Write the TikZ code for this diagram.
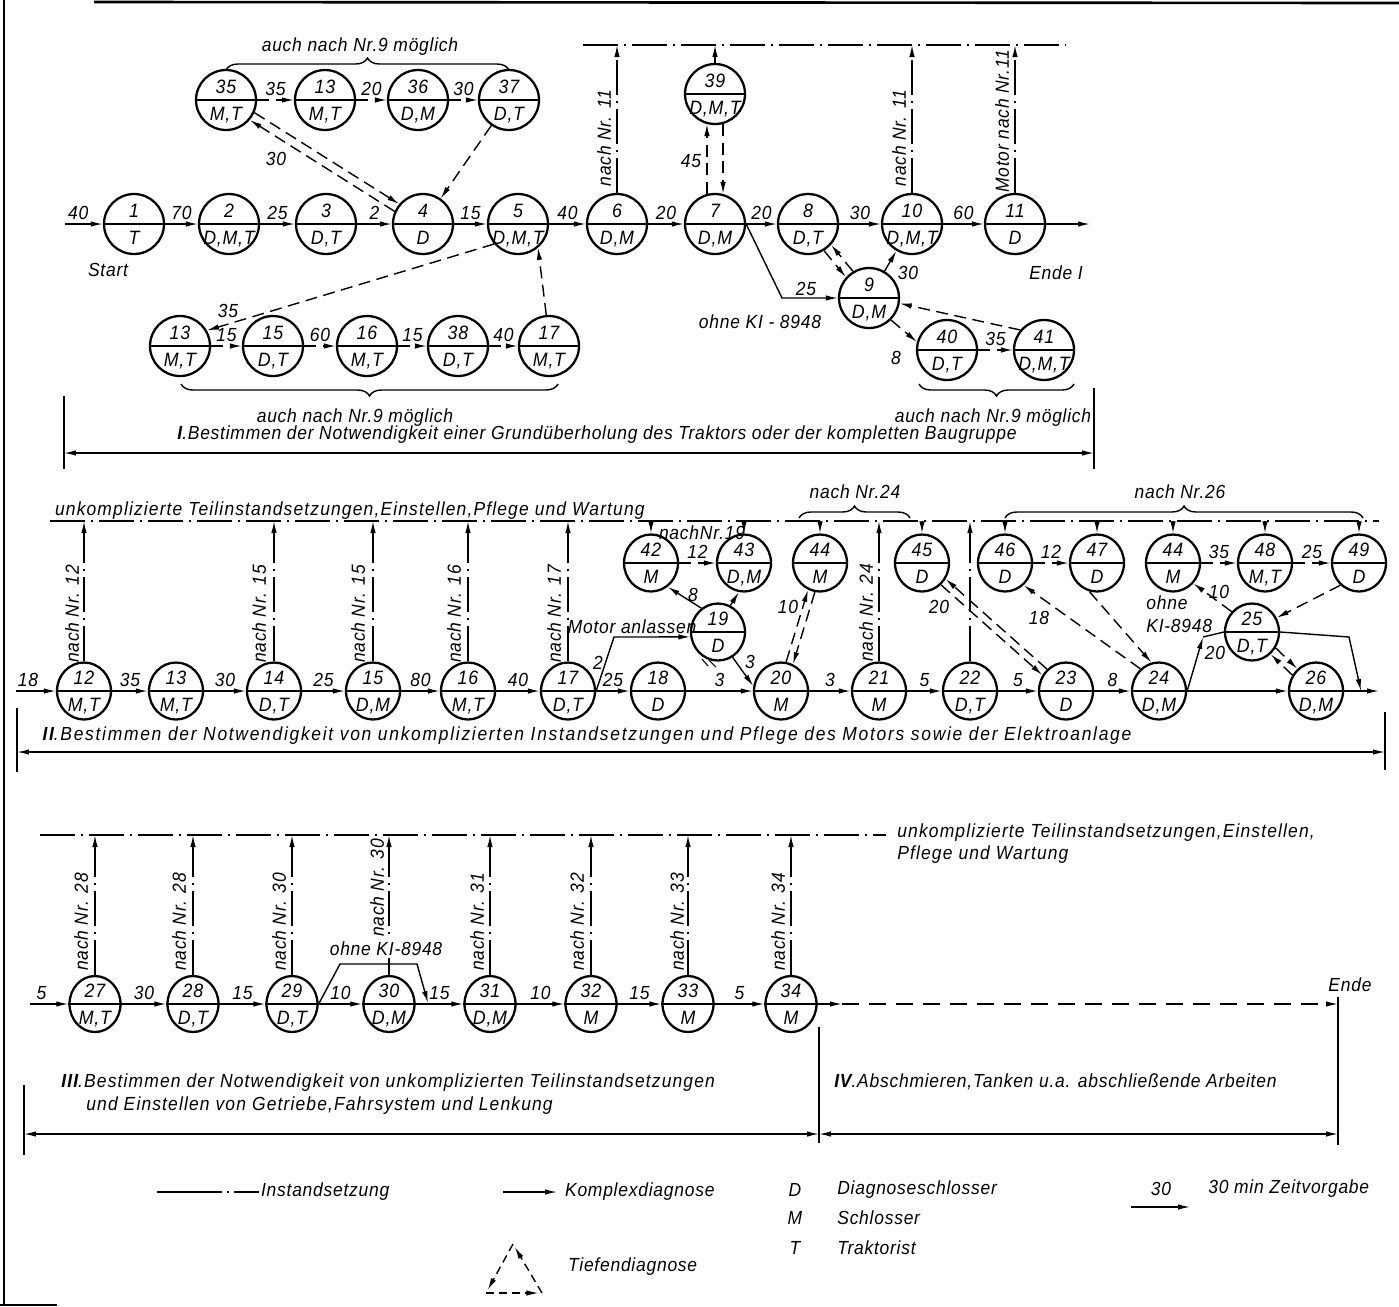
\documentclass[tikz,border=0pt]{standalone}
\usepackage{fontspec}
\setmainfont{Liberation Sans}[FakeStretch=0.92, LetterSpace=4]
\usetikzlibrary{arrows.meta,shapes.geometric,decorations.pathreplacing}

% task circle: style, name, position, number, staff
\newcommand{\tasknode}[5]{%
  \node[#1] (#2) at (#3) {};
  \draw[line width=1.3pt] (#2.west) -- (#2.east);
  \node[tasktxt, anchor=south] at ([yshift=2.5pt]#2.center) {#4};
  \node[tasktxt, anchor=north] at ([yshift=-3pt]#2.center) {#5};%
}

\begin{document}
\begin{tikzpicture}[x=0.02cm, y=-0.02cm,
  font=\itshape\fontsize{10.8}{13}\selectfont,
  >={Latex[length=2.4mm,width=1.1mm]},
  secI/.style={draw, ellipse, line width=1.3pt, minimum width=1.2cm, minimum height=1.2cm, inner sep=0pt},
  secII/.style={secI, minimum width=1.08cm, minimum height=1.14cm},
  secIII/.style={secI, minimum width=1.02cm, minimum height=1.12cm},
  tasktxt/.style={inner sep=1pt, font=\itshape\fontsize{11}{13}\selectfont},
  flow/.style={line width=0.8pt, ->},
  diag/.style={flow, dash pattern=on 2.4mm off 1.3mm},
  repair/.style={line width=0.8pt, dash pattern=on 7mm off 1.2mm on 0.4mm off 1.2mm},
  repairup/.style={repair, ->},
  elbl/.style={above=1pt, inner sep=1pt},
  vlbl/.style={rotate=90, inner sep=1pt},
  wide/.style={font=\itshape\fontsize{10.8}{13}\selectfont\addfontfeature{LetterSpace=#1}},
  brace/.style={decorate, decoration={brace, amplitude=0.24cm}, line width=0.8pt},
  dimline/.style={line width=0.8pt, <->},
  tick/.style={line width=0.8pt}]

\useasboundingbox (0,0) rectangle (1399,1306);

% frame
\draw[line width=1.5pt] (94,2) -- (1399,3);
\draw[line width=1pt] (4,0) -- (4,1305);
\draw[line width=1pt] (0,1305) -- (57,1305);

% ---------- I ----------
\tasknode{secI}{n1}{134,224}{1}{T}
\tasknode{secI}{n2}{229,224}{2}{D,M,T}
\tasknode{secI}{n3}{326,224}{3}{D,T}
\tasknode{secI}{n4}{423,224}{4}{D}
\tasknode{secI}{n5}{518,224}{5}{D,M,T}
\tasknode{secI}{n6}{617,224}{6}{D,M}
\tasknode{secI}{n7}{715,224}{7}{D,M}
\tasknode{secI}{n8}{808,224}{8}{D,T}
\tasknode{secI}{n10}{912,224}{10}{D,M,T}
\tasknode{secI}{n11}{1015,224}{11}{D}
\tasknode{secI}{n9}{869,298}{9}{D,M}
\tasknode{secI}{n40}{947,350}{40}{D,T}
\tasknode{secI}{n41}{1044,350}{41}{D,M,T}
\tasknode{secI}{n39}{715,94}{39}{D,M,T}
\tasknode{secI}{t35}{226,100}{35}{M,T}
\tasknode{secI}{t13}{325,100}{13}{M,T}
\tasknode{secI}{t36}{418,100}{36}{D,M}
\tasknode{secI}{t37}{509,100}{37}{D,T}
\tasknode{secI}{b13}{180,346}{13}{M,T}
\tasknode{secI}{b15}{273,346}{15}{D,T}
\tasknode{secI}{b16}{367,346}{16}{M,T}
\tasknode{secI}{b38}{458,346}{38}{D,T}
\tasknode{secI}{b17}{549,346}{17}{M,T}

\coordinate (inI) at (65,224);
\coordinate (outI) at (1090,224);
\coordinate (topI) at (0,45);
\draw[flow] (inI) -- (n1) node[pos=0.35, elbl] {40};
\foreach \a/\b/\t in {n1/n2/70, n2/n3/25, n3/n4/2, n4/n5/15, n5/n6/40, n6/n7/20, n7/n8/20, n8/n10/30, n10/n11/60}
  \draw[flow] (\a) -- (\b) node[midway, elbl] {\t};
\draw[flow] (n11) -- (outI);
\node (startlbl) at (108,270) {Start};
\node (endIlbl) at (1056,273) {Ende I};

% upper loop
\foreach \a/\b/\t in {t35/t13/35, t13/t36/20, t36/t37/30}
  \draw[diag] (\a) -- (\b) node[midway, elbl] {\t};
\draw[diag] (t35.-24) -- (n4.140);
\draw[diag] (n4.156) -- (t35.-40);
\node (l4to35) at (276,159) {30};
\draw[diag] (t37) -- (n4);
\draw[brace] (226,70) -- (509,70);
\node (auchtop) at (360,47) {auch nach Nr.9 möglich};

% lower loop
\draw[diag] (n5.-140) -- (b13.30);
\node (l5to13) at (228,311) {35};
\foreach \a/\b/\t in {b13/b15/15, b15/b16/60, b16/b38/15, b38/b17/40}
  \draw[diag] (\a) -- (\b) node[midway, elbl] {\t};
\draw[diag] (b17.95) -- (n5.-50);
\draw[brace] (558,384) -- (181,384);
\node (auchlow) at (355,418) {auch nach Nr.9 möglich};

% right part
\draw[flow] (n7.east) -- (782,298) -- (n9.west);
\node (l7to9) at (806,289) {25};
\node (ohneI) at (760,322) {ohne KI - 8948};
\draw[diag] (n8.-59) -- (n9.138);
\draw[diag] (n9.121) -- (n8.-42);
\draw[flow] (n9) -- (n10);
\node (l9to10) at (908,273) {30};
\draw[diag] (n9.-45) -- (n40.165);
\node (l9to40) at (896,358) {8};
\draw[diag] (n40) -- (n41) node[midway, elbl] {35};
\draw[diag] (n41.140) -- (n9.-10);
\draw[brace] (1074,384) -- (919,384);
\node (auchright) at (993,418) {auch nach Nr.9 möglich};
\draw[diag] (n7.105) -- (n39.-105);
\draw[diag] (n39.-75) -- (n7.75);
\node (l7to39) at (691,161) {45};

% repair line I
\draw[repair] (583,45) -- (1065,45);
\draw[flow] (n39) -- (n39 |- topI);
\foreach \n in {n6,n10,n11}
  \draw[repairup] (\n) -- (\n |- topI);
\node[vlbl] (v6) at (604,138) {nach Nr. 11};
\node[vlbl] (v10) at (899,138) {nach Nr. 11};
\node[vlbl] (v11) at (1002,121) {Motor nach Nr.11};

% dimension I
\node (titleI) at (597,435) {\textbf{I}.Bestimmen der Notwendigkeit einer Grundüberholung des Traktors oder der kompletten Baugruppe};
\draw[tick] (64,396) -- (64,469);
\draw[tick] (1094,388) -- (1094,469);
\draw[dimline] (64,453) -- (1094,453);

% ---------- II ----------
\tasknode{secII}{m12}{84,691}{12}{M,T}
\tasknode{secII}{m13}{176,691}{13}{M,T}
\tasknode{secII}{m14}{274,691}{14}{D,T}
\tasknode{secII}{m15}{373,691}{15}{D,M}
\tasknode{secII}{m16}{468,691}{16}{M,T}
\tasknode{secII}{m17}{568,691}{17}{D,T}
\tasknode{secII}{m18}{658,691}{18}{D}
\tasknode{secII}{m20}{781,691}{20}{M}
\tasknode{secII}{m21}{879,691}{21}{M}
\tasknode{secII}{m22}{970,691}{22}{D,T}
\tasknode{secII}{m23}{1066,691}{23}{D}
\tasknode{secII}{m24}{1159,691}{24}{D,M}
\tasknode{secII}{m26}{1316,691}{26}{D,M}
\tasknode{secII}{m42}{651,563}{42}{M}
\tasknode{secII}{m43}{744,563}{43}{D,M}
\tasknode{secII}{m44}{820,563}{44}{M}
\tasknode{secII}{m45}{922,563}{45}{D}
\tasknode{secII}{m46}{1005,563}{46}{D}
\tasknode{secII}{m47}{1097,563}{47}{D}
\tasknode{secII}{m44b}{1173,563}{44}{M}
\tasknode{secII}{m48}{1265,563}{48}{M,T}
\tasknode{secII}{m49}{1359,563}{49}{D}
\tasknode{secII}{m19}{718,632}{19}{D}
\tasknode{secII}{m25}{1252,632}{25}{D,T}

\coordinate (inII) at (16,691);
\coordinate (outII) at (1379,691);
\coordinate (topII) at (0,521);
\draw[repair] (50,521) -- (1379,521);
\node[anchor=base west, inner sep=1pt, wide=6] (unkII) at (53,515) {unkomplizierte Teilinstandsetzungen,Einstellen,Pflege und Wartung};

\draw[flow] (inII) -- (m12) node[pos=0.3, elbl] {18};
\foreach \a/\b/\t in {m12/m13/35, m13/m14/30, m14/m15/25, m15/m16/80, m16/m17/40, m17/m18/25, m18/m20/3, m20/m21/3, m21/m22/5, m22/m23/5, m23/m24/8}
  \draw[flow] (\a) -- (\b) node[midway, elbl] {\t};
\draw[flow] (m24) -- (m26);
\draw[flow] (m26) -- (outII);

\foreach \n in {m12,m14,m15,m16,m17,m21,m22}
  \draw[repairup] (\n) -- (\n |- topII);
\foreach \n in {m42,m43,m44,m45,m46,m47,m44b,m48,m49}
  \draw[flow] (\n |- topII) -- (\n);
\node[vlbl] (v12) at (72,614) {nach Nr. 12};
\node[vlbl] (v14) at (259,614) {nach Nr. 15};
\node[vlbl] (v15) at (358,614) {nach Nr. 15};
\node[vlbl] (v16) at (454,614) {nach Nr. 16};
\node[vlbl] (v17) at (554,614) {nach Nr. 17};
\node[vlbl] (v21) at (866,613) {nach Nr. 24};

% engine start loop
\draw[flow] (m17.east) -- (614,637) -- (m19.190);
\node (anlassen) at (632,627) {Motor anlassen};
\node (l17to19) at (598,663) {2};
\draw[diag] (m42) -- (m43) node[midway, elbl] {12};
\node (nach19) at (702,533) {nachNr.19};
\draw[flow] (m19.125) -- (m42.-55);
\node (l19to42) at (693,595) {8};
\draw[flow] (m19.65) -- (m43.-100);
\draw[flow] (m19.-60) -- (m20.170);
\node (l19to20) at (750,662) {3};
\draw[line width=0.6pt] (702,659) -- (708,666);
\draw[line width=0.6pt] (709,660) -- (716,667);
\draw[diag] (m20.80) -- (m44.246);
\draw[diag] (m44.260) -- (m20.66);
\node (l20to44) at (788,607) {10};
\draw[brace] (799,518) -- (910,518);
\node (nach24) at (855,492) {nach Nr.24};

% right loops
\draw[diag] (m23.131) -- (m45.-34);
\draw[diag] (m45.-49) -- (m23.146);
\node (l45to23) at (939,607) {20};
\draw[diag] (m24.130) -- (m46.-50);
\node (l24to46) at (1039,618) {18};
\draw[diag] (m47.-105) -- (m24.105);
\draw[diag] (m46) -- (m47) node[midway, elbl] {12};
\draw[diag] (m44b) -- (m48) node[midway, elbl] {35};
\draw[diag] (m48) -- (m49) node[midway, elbl] {25};
\draw[diag] (m25.135) -- (m44b.-45);
\node (l25to44) at (1219,592) {10};
\node[anchor=west, align=left, inner sep=0pt] (ohneII) at (1146,614) {ohne\\KI-8948};
\draw[diag] (m49.-130) -- (m25.30);
\draw[flow] (m24.east) -- (1203,637);
\draw[line width=0.8pt] (1203,637) -- (m25.west);
\node (l24to25) at (1215,653) {20};
\draw[flow] (m25.east) -- (1349,637) -- (1361,691);
\draw[diag] (m25.-34) -- (m26.130);
\draw[diag] (m26.146) -- (m25.-50);
\draw[brace] (1005,518) -- (1363,518);
\node (nach26) at (1180,492) {nach Nr.26};

% dimension II
\node[wide=9] (titleII) at (587,736) {\textbf{II}.Bestimmen der Notwendigkeit von unkomplizierten Instandsetzungen und Pflege des Motors sowie der Elektroanlage};
\draw[tick] (17,708) -- (17,772);
\draw[tick] (1385,712) -- (1385,770);
\draw[dimline] (17,752) -- (1385,752);

% ---------- III ----------
\tasknode{secIII}{p27}{95,1004}{27}{M,T}
\tasknode{secIII}{p28}{193,1004}{28}{D,T}
\tasknode{secIII}{p29}{292,1004}{29}{D,T}
\tasknode{secIII}{p30}{389,1004}{30}{D,M}
\tasknode{secIII}{p31}{490,1004}{31}{D,M}
\tasknode{secIII}{p32}{591,1004}{32}{M}
\tasknode{secIII}{p33}{688,1004}{33}{M}
\tasknode{secIII}{p34}{791,1004}{34}{M}

\coordinate (inIII) at (30,1004);
\coordinate (topIII) at (0,835);
\draw[repair] (40,835) -- (886,835);
\node[anchor=north west, align=left, inner sep=0pt, wide=6] (unkIII) at (897,823) {unkomplizierte Teilinstandsetzungen,Einstellen,\\Pflege und Wartung};
\draw[flow] (inIII) -- (p27) node[pos=0.3, elbl] {5};
\foreach \a/\b/\t in {p27/p28/30, p28/p29/15, p29/p30/10, p30/p31/15, p31/p32/10, p32/p33/15, p33/p34/5}
  \draw[flow] (\a) -- (\b) node[midway, elbl] {\t};
\foreach \n in {p27,p28,p29,p30,p31,p32,p33,p34}
  \draw[repairup] (\n) -- (\n |- topIII);
\node[vlbl] (v27) at (81,922) {nach Nr. 28};
\node[vlbl] (v28) at (179,922) {nach Nr. 28};
\node[vlbl] (v29) at (279,922) {nach Nr. 30};
\node[vlbl] (v30) at (377,888) {nach Nr. 30};
\node[vlbl] (v31) at (477,922) {nach Nr. 31};
\node[vlbl] (v32) at (577,922) {nach Nr. 32};
\node[vlbl] (v33) at (677,922) {nach Nr. 33};
\node[vlbl] (v34) at (778,922) {nach Nr. 34};

% bypass of 30
\coordinate (byp) at (428,1003);
\draw[flow] (p29.east) -- (340,964) -- (417,964) -- (byp);
\node[fill=white, inner sep=1pt] (ohneIII) at (386,949) {ohne KI-8948};

% section IV
\coordinate (endIII) at (842,1004);
\coordinate (endIV) at (1338,1004);
\draw[flow] (p34) -- (endIII);
\draw[flow, dash pattern=on 3.4mm off 2mm] (endIII) -- (endIV);
\node (endlbl) at (1350,985) {Ende};

% dimension III / IV
\node[anchor=west, align=left, inner sep=0pt, wide=6] (titleIII) at (61,1094) {\textbf{III}.Bestimmen der Notwendigkeit von unkomplizierten Teilinstandsetzungen\\\hspace*{0.5cm}und Einstellen von Getriebe,Fahrsystem und Lenkung};
\node[anchor=west, inner sep=0pt] (titleIV) at (834,1082) {\textbf{IV}.Abschmieren,Tanken u.a. abschließende Arbeiten};
\draw[tick] (24,1085) -- (24,1155);
\draw[tick] (819,1027) -- (819,1143);
\draw[tick] (1338,997) -- (1338,1145);
\draw[dimline] (24,1134) -- (819,1134);
\draw[dimline] (819,1134) -- (1338,1134);

% ---------- legend ----------
\coordinate (lgR1) at (157,1192);
\coordinate (lgR2) at (259,1192);
\draw[repair, dash pattern=on 1.3cm off 1mm on 0.4mm off 1mm] (lgR1) -- (lgR2);
\node[anchor=west, inner sep=1pt] (lgRt) at (lgR2) {Instandsetzung};
\coordinate (lgK1) at (503,1192);
\coordinate (lgK2) at (557,1192);
\draw[flow] (lgK1) -- (lgK2);
\node[anchor=west, inner sep=1pt] (lgKt) at (563,1192) {Komplexdiagnose};
\coordinate (triA) at (513,1244);
\coordinate (triL) at (486,1293);
\coordinate (triR) at (542,1293);
\draw[diag, dash pattern=on 1.6mm off 1mm, shorten >=2pt] (triL) -- (triR);
\draw[diag, dash pattern=on 1.6mm off 1mm, shorten >=2pt] (triR) -- (triA);
\draw[diag, dash pattern=on 1.6mm off 1mm, shorten >=2pt] (triA) -- (triL);
\node[anchor=west, inner sep=1pt] (lgTt) at (566,1267) {Tiefendiagnose};
\node (lgD) at (795,1190) {D};
\node[anchor=west, inner sep=0pt] (lgDt) at (837,1190) {Diagnoseschlosser};
\node (lgM) at (795,1218) {M};
\node[anchor=west, inner sep=0pt] (lgMt) at (837,1218) {Schlosser};
\node (lgT) at (795,1248) {T};
\node[anchor=west, inner sep=0pt] (lgTr) at (837,1248) {Traktorist};
\node (lg30) at (1161,1189) {30};
\coordinate (lgZ1) at (1131,1207);
\coordinate (lgZ2) at (1190,1207);
\draw[flow] (lgZ1) -- (lgZ2);
\node[anchor=west, inner sep=0pt] (lgZt) at (1208,1189) {30 min Zeitvorgabe};
\end{tikzpicture}
\end{document}
